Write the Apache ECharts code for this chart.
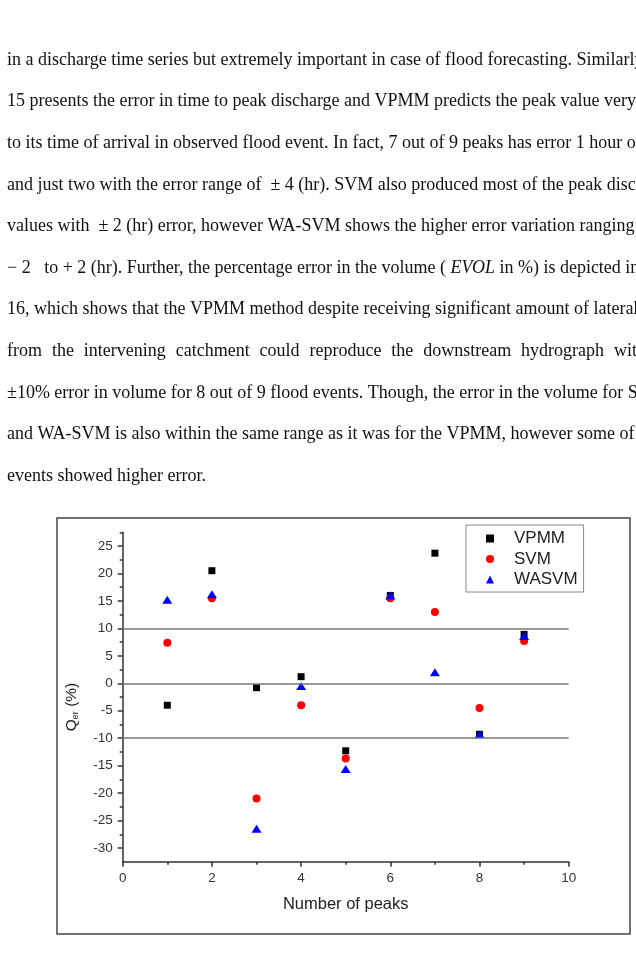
<!DOCTYPE html>
<html>
<head>
<meta charset="utf-8">
<script src="https://cdn.jsdelivr.net/npm/echarts@6/dist/echarts.min.js"></script>
<style>
  html, body { margin: 0; padding: 0; background: #fff; }
  #main { width: 636px; height: 974px; }
</style>
</head>
<body>
<div id="main"></div>
<script>
// 数据
const peaks = [1, 2, 3, 4, 5, 6, 7, 8, 9];
const vpmm = [-4, 20.5, -0.8, 1.2, -12.3, 16, 23.7, -9.3, 8.9];
const svm = [7.4, 15.5, -21, -4, -13.7, 15.5, 13, -4.5, 7.7];
const wasvm = [15.2, 16.2, -26.5, -0.5, -15.6, 16, 2, -9.3, 8.6];
const refLines = [10, 0, -10];
const yMajor = [-30, -25, -20, -15, -10, -5, 0, 5, 10, 15, 20, 25];
const yMinor = [-27.5, -22.5, -17.5, -12.5, -7.5, -2.5, 2.5, 7.5, 12.5, 17.5, 22.5, 27.5];

// 正文
const paraLines = [
  'in a discharge time series but extremely important in case of flood forecasting. Similarly, Fig.',
  '15 presents the error in time to peak discharge and VPMM predicts the peak value very close',
  'to its time of arrival in observed flood event. In fact, 7 out of 9 peaks has error 1 hour or less',
  'and just two with the error range of  \u00b1 4 (hr). SVM also produced most of the peak discharge',
  'values with  \u00b1 2 (hr) error, however WA-SVM shows the higher error variation ranging from',
  null, // 第6行含斜体，单独处理
  '16, which shows that the VPMM method despite receiving significant amount of lateral flow',
  null, // 第8行两端对齐
  '\u00b110% error in volume for 8 out of 9 flood events. Though, the error in the volume for SVM',
  'and WA-SVM is also within the same range as it was for the VPMM, however some of the',
  'events showed higher error.'
];
const justifyWords = ['from', 'the', 'intervening', 'catchment', 'could', 'reproduce', 'the', 'downstream', 'hydrograph', 'within'];

const FONT_SERIF = '"Liberation Serif", "Times New Roman", serif';
const FONT_SANS = '"Liberation Sans", Arial, sans-serif';
const TXT_SIZE = 18;
const lineTop = 60;
const lineStep = 41.6;

const graphics = [];
paraLines.forEach(function (t, i) {
  if (t == null) return;
  graphics.push({
    type: 'text', silent: true,
    x: 7, y: lineTop + i * lineStep,
    style: { text: t, x: 0, y: 0, font: TXT_SIZE + 'px ' + FONT_SERIF, fill: '#111', verticalAlign: 'middle' }
  });
});
// 第6行
graphics.push({
  type: 'text', silent: true, x: 7, y: lineTop + 5 * lineStep,
  style: {
    text: '{n|\u2212 2   to + 2 (hr). Further, the percentage error in the volume ( }{i|EVOL}{n| in %) is depicted in Fig.}',
    x: 0, y: 0, verticalAlign: 'middle', fill: '#111',
    rich: {
      n: { font: TXT_SIZE + 'px ' + FONT_SERIF, fill: '#111' },
      i: { font: 'italic ' + TXT_SIZE + 'px ' + FONT_SERIF, fill: '#111' }
    }
  }
});
// 第8行 两端对齐
(function () {
  const ctx = document.createElement('canvas').getContext('2d');
  ctx.font = TXT_SIZE + 'px ' + FONT_SERIF;
  const widths = justifyWords.map(function (w) { return ctx.measureText(w).width; });
  const total = widths.reduce(function (a, b) { return a + b; }, 0);
  const x0 = 7, x1 = 660;
  const gap = (x1 - x0 - total) / (justifyWords.length - 1);
  let x = x0;
  justifyWords.forEach(function (w, k) {
    graphics.push({
      type: 'text', silent: true, x: x, y: lineTop + 7 * lineStep,
      style: { text: w, x: 0, y: 0, font: TXT_SIZE + 'px ' + FONT_SERIF, fill: '#111', verticalAlign: 'middle' }
    });
    x += widths[k] + gap;
  });
})();
// 图框
graphics.push({
  type: 'rect', silent: true, z: -1,
  shape: { x: 57, y: 518, width: 573, height: 416 },
  style: { fill: 'none', stroke: '#444', lineWidth: 1.5 }
});

const chart = echarts.init(document.getElementById('main'), null, { renderer: 'canvas' });

const option = {
  animation: false,
  backgroundColor: '#fff',
  graphic: graphics,
  legend: {
    orient: 'vertical',
    left: 466, top: 525,
    padding: [5, 6, 4, 20],
    borderColor: '#888', borderWidth: 1,
    itemWidth: 8, itemHeight: 8, itemGap: 3.5,
    formatter: function (name) { return '{g| }' + name; },
    textStyle: {
      fontFamily: FONT_SANS, fontSize: 17, color: '#222', lineHeight: 16,
      rich: { g: { width: 15 } }
    },
    data: ['VPMM', 'SVM', 'WASVM']
  },
  grid: { left: 122.7, right: 67.3, top: 532.3, bottom: 112.3 },
  xAxis: {
    type: 'value', min: 0, max: 10, interval: 2,
    name: 'Number of peaks', nameLocation: 'middle', nameGap: 34,
    nameTextStyle: { fontFamily: FONT_SANS, fontSize: 16.5, color: '#222' },
    axisLine: { onZero: false, lineStyle: { color: '#333', width: 1.5 } },
    axisTick: { length: 5, lineStyle: { color: '#333', width: 1.5 } },
    minorTick: { show: true, splitNumber: 2, length: 3, lineStyle: { color: '#333', width: 1.5 } },
    axisLabel: { margin: 10, fontFamily: FONT_SANS, fontSize: 13.5, color: '#333' },
    splitLine: { show: false }
  },
  yAxis: [{
    type: 'value', min: -32.5, max: 27.5,
    name: '{q|Q}{s|er}{q| (%)}', nameLocation: 'middle', nameGap: 43, nameRotate: 90,
    nameTextStyle: {
      fontFamily: FONT_SANS, fontSize: 15, color: '#222', padding: [0, 20, 0, 0],
      rich: {
        q: { fontFamily: FONT_SANS, fontSize: 15.5, color: '#222' },
        s: { fontFamily: FONT_SANS, fontSize: 9, color: '#222', verticalAlign: 'bottom', padding: [6, 0, 0, 0] }
      }
    },
    axisLine: { show: true, lineStyle: { color: '#333', width: 1.5 } },
    axisTick: { length: 5, customValues: yMajor, lineStyle: { color: '#333', width: 1.5 } },
    axisLabel: { margin: 10, customValues: yMajor, fontFamily: FONT_SANS, fontSize: 13.5, color: '#333' },
    splitLine: { show: false }
  }, {
    type: 'value', min: -32.5, max: 27.5, position: 'left',
    axisLine: { show: false },
    axisTick: { show: true, length: 3, customValues: yMinor, lineStyle: { color: '#333', width: 1.5 } },
    axisLabel: { show: false },
    splitLine: { show: false }
  }],
  series: [{
    name: 'refs', type: 'line', data: [], silent: true,
    markLine: {
      silent: true, symbol: 'none', label: { show: false },
      lineStyle: { color: '#777', width: 1.5, type: 'solid' },
      data: refLines.map(function (v) { return { yAxis: v }; })
    }
  }, {
    name: 'VPMM', type: 'scatter', symbol: 'rect', symbolSize: 7,
    itemStyle: { color: '#000', opacity: 1 },
    data: peaks.map(function (p, i) { return [p, vpmm[i]]; })
  }, {
    name: 'SVM', type: 'scatter', symbol: 'circle', symbolSize: 8,
    itemStyle: { color: '#ff0000', opacity: 1 },
    data: peaks.map(function (p, i) { return [p, svm[i]]; })
  }, {
    name: 'WASVM', type: 'scatter', symbol: 'triangle', symbolSize: [10, 8],
    itemStyle: { color: '#0000ff', opacity: 1 },
    data: peaks.map(function (p, i) { return [p, wasvm[i]]; })
  }]
};

chart.setOption(option);
</script>
</body>
</html>
